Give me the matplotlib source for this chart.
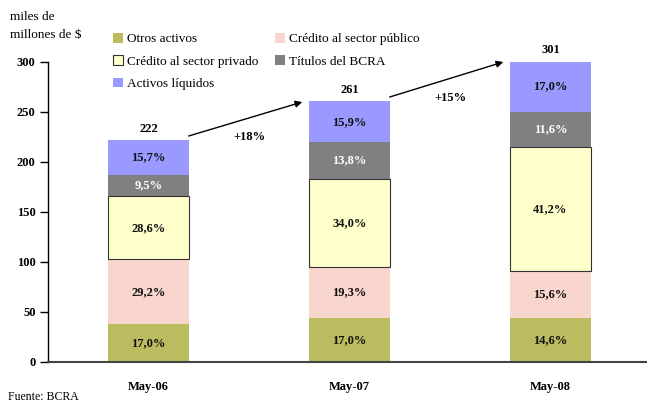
import matplotlib
matplotlib.use("Agg")
import matplotlib.pyplot as plt
import numpy as np

plt.rcParams['font.family'] = ['Liberation Serif', 'DejaVu Serif']

categories = ["May-06", "May-07", "May-08"]
totals = [222, 261, 301]
series_names = ["Otros activos", "Crédito al sector público", "Crédito al sector privado",
                "Títulos del BCRA", "Activos líquidos"]
otros = [17.0, 17.0, 14.6]
publico = [29.2, 19.3, 15.6]
privado = [28.6, 34.0, 41.2]
titulos = [9.5, 13.8, 11.6]
liquidos = [15.7, 15.9, 17.0]
growth = ["+18%", "+15%"]

shares = [otros, publico, privado, titulos, liquidos]
colors = ["#BBBB5F", "#F9D6CD", "#FFFFCC", "#808080", "#9999FF"]
text_colors = ["#111111", "#111111", "#111111", "white", "#111111"]

fig = plt.figure(figsize=(6.47, 4.03), dpi=100)
ax = fig.add_axes([48/647, 1-362/403, 599/647, 300/403])

x = np.arange(len(categories))
w = 0.40
bottom = np.zeros(len(categories))
for i, (s, c) in enumerate(zip(shares, colors)):
    h = np.array(s) / 100.0 * np.array(totals)
    if i == 2:
        ax.bar(x, h, w, bottom=bottom, color=c, edgecolor="#333333", linewidth=0.8,
               label=series_names[i], zorder=3)
    else:
        ax.bar(x, h, w, bottom=bottom, color=c, linewidth=0, label=series_names[i], zorder=2)
    for j in range(len(categories)):
        ax.text(x[j], bottom[j] + h[j] / 2, f"{s[j]:.1f}%".replace(".", ","),
                ha="center", va="center", fontsize=9, fontweight="bold",
                color=text_colors[i], zorder=4)
    bottom += h

for j in range(len(categories)):
    ax.text(x[j], totals[j] + 11, str(totals[j]), ha="center", va="center",
            fontsize=9, fontweight="bold")

# growth arrows
for j in range(len(categories) - 1):
    ax.annotate("", xy=(x[j+1] - 0.235, totals[j+1] - 1), xytext=(x[j] + 0.2, totals[j] + 4),
                arrowprops=dict(arrowstyle="-|>", color="black", lw=1.0,
                                mutation_scale=10, shrinkA=0, shrinkB=0),
                annotation_clip=False)
    ax.text(x[j] + 0.5, totals[j] + 3, growth[j], ha="center", va="center",
            fontsize=9, fontweight="bold")

ax.set_xlim(-0.5, 2.48)
ax.set_ylim(0, 300)
ax.set_yticks(range(0, 301, 50))
ax.set_xticks(x)
ax.set_xticklabels(categories, fontweight="bold", fontsize=9)
for t in ax.get_yticklabels():
    t.set_fontweight("bold")
    t.set_fontsize(9)
ax.tick_params(axis="x", length=0, pad=14)
ax.tick_params(axis="y", length=6, width=1, direction="out", pad=3)
ax.spines["top"].set_visible(False)
ax.spines["right"].set_visible(False)
ax.spines["bottom"].set_color("#444444")
ax.spines["bottom"].set_linewidth(1.5)
ax.spines["left"].set_linewidth(1.0)

handles, labels = ax.get_legend_handles_labels()
order = [0, 2, 4, 1, 3]
leg = fig.legend([handles[k] for k in order], [labels[k] for k in order],
                 loc="upper left", bbox_to_anchor=(113/647, 1-33/403), ncol=2,
                 frameon=False, fontsize=9.5, handlelength=0.75, handleheight=0.75,
                 handletextpad=0.3, columnspacing=1.3, labelspacing=0.75,
                 borderaxespad=0, borderpad=0)

fig.text(10/647, 1-17/403, "miles de", fontsize=9.5, va="center", ha="left")
fig.text(10/647, 1-35/403, "millones de $", fontsize=9.5, va="center", ha="left")
fig.text(8/647, 1-397/403, "Fuente: BCRA", fontsize=8.5, va="center", ha="left")

fig.savefig("out.png", dpi=100)
